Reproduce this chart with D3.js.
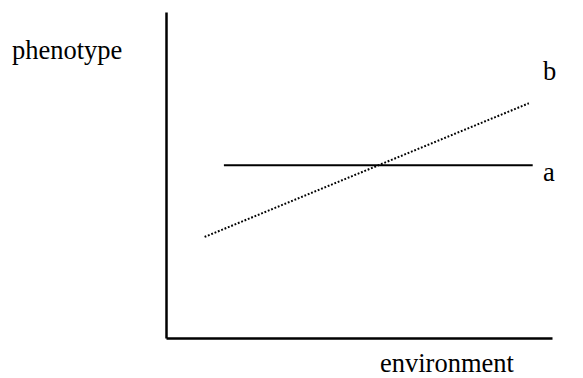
<!DOCTYPE html>
<html>
<head>
<meta charset="utf-8">
<script src="https://cdn.jsdelivr.net/npm/d3@7"></script>
<style>
  html, body { margin: 0; padding: 0; background: #fff; }
  svg { display: block; }
  text { font-family: "Liberation Serif", "Times New Roman", serif; fill: #000; }
</style>
</head>
<body>
<svg id="chart" width="583" height="378"></svg>
<script>
// Reaction norms: genotype a is flat, genotype b rises with the environment
const envA = [1.5, 9.5];
const phenoA = [5.3, 5.3];
const envB = [1.0, 9.4];
const phenoB = [3.1, 7.2];
const axisLabels = { x: "environment", y: "phenotype" };
const seriesLabels = ["a", "b"];

const svg = d3.select("#chart");
const W = 583, H = 378;
const margin = { left: 166, right: 31, top: 12, bottom: 40 };

const x = d3.scaleLinear().domain([0, 10]).range([margin.left, W - margin.right]);
const y = d3.scaleLinear().domain([0, 10]).range([H - margin.bottom, margin.top]);

// Bare axes: only the domain lines, no ticks
svg.append("g")
  .attr("transform", `translate(0,${y(0)})`)
  .call(d3.axisBottom(x).tickValues([]).tickSizeOuter(0));
svg.append("g")
  .attr("transform", `translate(${x(0)},0)`)
  .call(d3.axisLeft(y).tickValues([]).tickSizeOuter(0));
svg.selectAll(".domain").attr("stroke", "#000").attr("stroke-width", 2.5);

const line = d3.line().x(d => x(d[0])).y(d => y(d[1]));

// Genotype a: solid line
svg.append("path")
  .datum(d3.zip(envA, phenoA))
  .attr("d", line)
  .attr("fill", "none")
  .attr("stroke", "#000")
  .attr("stroke-width", 2);

// Genotype b: dotted line
svg.append("path")
  .datum(d3.zip(envB, phenoB))
  .attr("d", line)
  .attr("fill", "none")
  .attr("stroke", "#000")
  .attr("stroke-width", 2)
  .attr("stroke-dasharray", "1.8 1.8");

const fs = 26.5;
svg.append("text")
  .attr("x", 12).attr("y", 59)
  .style("font-size", fs + "px")
  .text(axisLabels.y);

svg.append("text")
  .attr("x", 380).attr("y", 372)
  .style("font-size", fs + "px")
  .text(axisLabels.x);

svg.append("text")
  .attr("x", 543).attr("y", y(phenoA[1]) + 16)
  .style("font-size", fs + "px")
  .text(seriesLabels[0]);

svg.append("text")
  .attr("x", 543).attr("y", 80)
  .style("font-size", fs + "px")
  .text(seriesLabels[1]);
</script>
</body>
</html>
